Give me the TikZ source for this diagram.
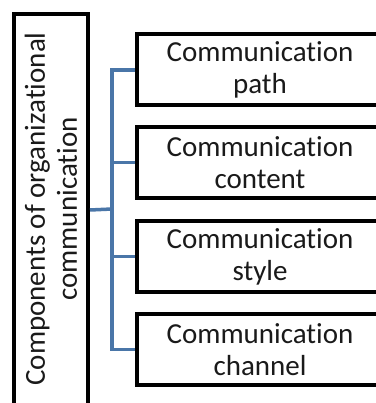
\documentclass[tikz,border=0pt]{standalone}
\usepackage{fontspec}
\setmainfont[Ligatures={NoCommon}]{Carlito}
\definecolor{linkblue}{HTML}{4A76A8}
\definecolor{inktext}{HTML}{1A1A1A}
\begin{document}
\begin{tikzpicture}[x=1pt,y=-1pt,
  box/.style={draw=black, line width=4pt, fill=white, inner sep=0pt, align=center,
    text=inktext, font=\fontsize{29}{32}\selectfont},
  itembox/.style={box, minimum width=246pt, minimum height=71pt},
  link/.style={draw=linkblue, line width=3.5pt}]
\useasboundingbox (0,0) rectangle (375,403);
\fill[white] (0,0) rectangle (375,403);
\node[box, minimum width=74pt, minimum height=392pt] (L) at (51,210) {};
\node[rotate=90, align=center, text=inktext, font=\fontsize{29}{32}\selectfont] (Lt) at (51,209)
  {Components of organizational\\communication};
\node[itembox] (b1) at (260,70) {Communication\\path};
\node[itembox] (b2) at (260,162.5) {Communication\\content};
\node[itembox] (b3) at (260,256.5) {Communication\\style};
\node[itembox] (b4) at (260,349.5) {Communication\\channel};
\coordinate (j) at (112,209);
\draw[link] (L.east) -- (j);
\draw[link] (b1.west) -- (b1.west -| j) -- (b4.west -| j) -- (b4.west);
\draw[link] (b2.west) -- (b2.west -| j);
\draw[link] (b3.west) -- (b3.west -| j);
\end{tikzpicture}
\end{document}
